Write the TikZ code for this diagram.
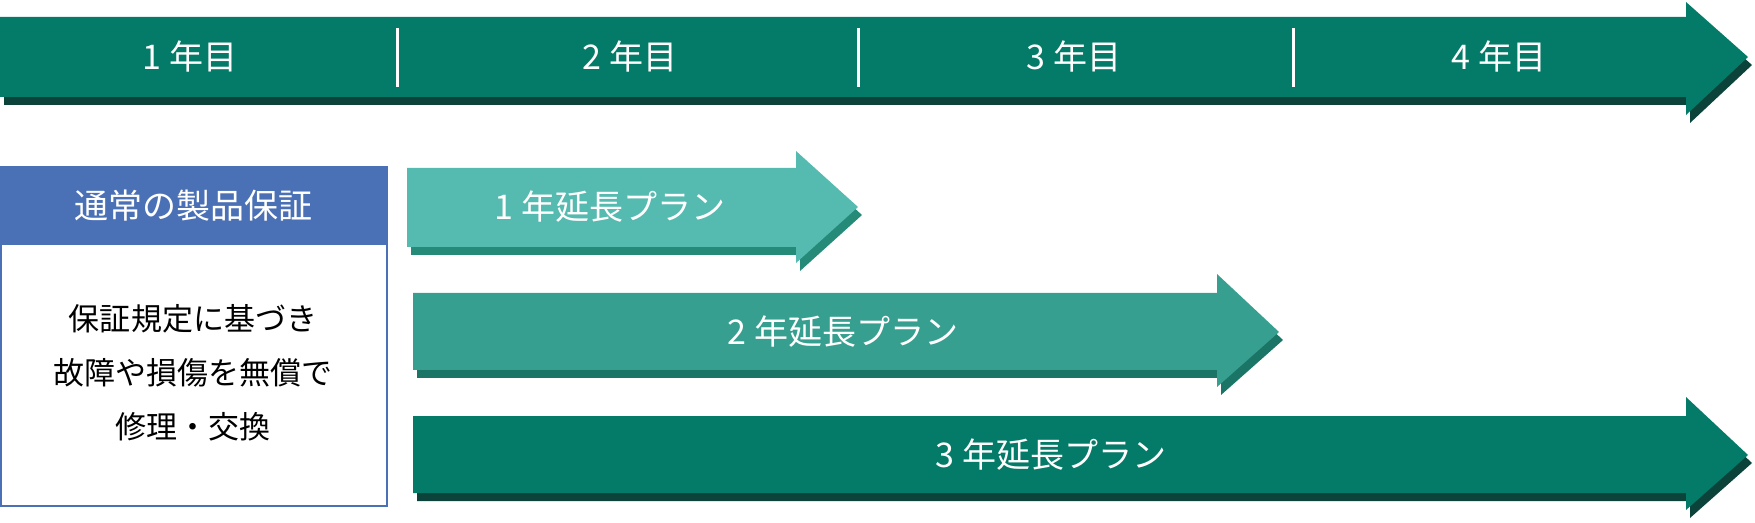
\documentclass[tikz,border=0pt]{standalone}
\usepackage{fontspec}
\setmainfont{Noto Sans CJK JP}
\definecolor{dgreen}{HTML}{047A68}
\definecolor{dgreensh}{HTML}{0B4239}
\definecolor{lgreen}{HTML}{55BAB0}
\definecolor{lgreensh}{HTML}{258A78}
\definecolor{mgreen}{HTML}{379F8F}
\definecolor{mgreensh}{HTML}{1B7566}
\definecolor{tblue}{HTML}{4A70B5}
\tikzset{lbl/.style={text=white,font=\fontsize{17}{20}\selectfont},
blk/.style={text=black,font=\fontsize{15.5}{27}\selectfont,align=center},
shad/.style={preaction={fill=#1,transform canvas={shift={(2pt,-4pt)}}}}}
\begin{document}
\begin{tikzpicture}[x=0.5pt,y=-0.5pt]
\useasboundingbox (0,0) rectangle (1755,523);
% top arrow
\fill[dgreen,shad=dgreensh] (0,17) -- (1686,17) -- (1686,2) -- (1748,57) -- (1686,115) -- (1686,97) -- (0,97) -- cycle;
\foreach \x in {397,858,1293} \draw[white,line width=1.5] (\x,28) -- (\x,87);
\node[lbl] (y1) at (190,57) {1 年目};
\node[lbl] (y2) at (630,57) {2 年目};
\node[lbl] (y3) at (1074,57) {3 年目};
\node[lbl] (y4) at (1499,57) {4 年目};
% box
\draw[tblue,line width=1.2,fill=white] (0.6,167) rectangle (387,506);
\fill[tblue] (0,167) rectangle (387.6,245);
\node[lbl] (t) at (193,206) {通常の製品保証};
\node[blk] (b) at (193,373) {保証規定に基づき\\故障や損傷を無償で\\修理・交換};
% plan arrows
\fill[lgreen,shad=lgreensh] (407,168) -- (796,168) -- (796,151) -- (858,207) -- (796,263) -- (796,247) -- (407,247) -- cycle;
\node[lbl] (p1) at (610,207) {1 年延長プラン};
\fill[mgreen,shad=mgreensh] (413,293) -- (1217,293) -- (1217,274) -- (1279,332) -- (1217,387) -- (1217,370) -- (413,370) -- cycle;
\node[lbl] (p2) at (843,332) {2 年延長プラン};
\fill[dgreen,shad=dgreensh] (413,416) -- (1686,416) -- (1686,397) -- (1748,455) -- (1686,510) -- (1686,493) -- (413,493) -- cycle;
\node[lbl] (p3) at (1051,455) {3 年延長プラン};
\end{tikzpicture}
\end{document}
